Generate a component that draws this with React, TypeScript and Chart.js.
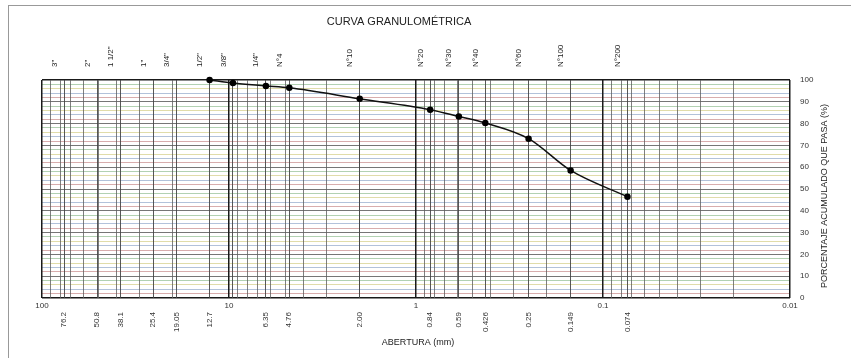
import React, { useEffect, useRef } from 'react';
import { Chart, registerables } from 'chart.js';

Chart.register(...registerables);

const chartTitle = 'CURVA GRANULOMÉTRICA';
const xAxisTitle = 'ABERTURA (mm)';
const yAxisTitle = 'PORCENTAJE ACUMULADO QUE PASA (%)';

// Sieve names (top axis) and their openings in mm
const sieveNames = ['3"', '2"', '1 1/2"', '1"', '3/4"', '1/2"', '3/8"', '1/4"', 'N°4', 'N°10', 'N°20', 'N°30', 'N°40', 'N°60', 'N°100', 'N°200'];
const sieveSizes = [76.2, 50.8, 38.1, 25.4, 19.05, 12.7, 9.525, 6.35, 4.76, 2.0, 0.84, 0.59, 0.426, 0.25, 0.149, 0.074];

// Bottom axis opening labels
const openingTicks = [76.2, 50.8, 38.1, 25.4, 19.05, 12.7, 6.35, 4.76, 2.0, 0.84, 0.59, 0.426, 0.25, 0.149, 0.074];
const openingLabels = ['76.2', '50.8', '38.1', '25.4', '19.05', '12.7', '6.35', '4.76', '2.00', '0.84', '0.59', '0.426', '0.25', '0.149', '0.074'];

// Decade ticks
const decadeTicks = [100, 10, 1, 0.1, 0.01];
const decadeLabels = ['100', '10', '1', '0.1', '0.01'];

// Grain size curve
const curveSizes = [12.7, 9.525, 6.35, 4.76, 2.0, 0.84, 0.59, 0.426, 0.25, 0.149, 0.074];
const curvePassing = [100, 98.6, 97.3, 96.4, 91.4, 86.4, 83.3, 80.3, 73.1, 58.5, 46.4];

// Percent axis
const percentLabels = [0, 10, 20, 30, 40, 50, 60, 70, 80, 90, 100];
const percentGridStep = 2;

const logMultipliers = [1, 2, 3, 4, 5, 6, 7, 8, 9];
const decadeBases = [0.01, 0.1, 1, 10];

const xGridValues: number[] = [];
decadeBases.forEach((b) => logMultipliers.forEach((m) => xGridValues.push(+(b * m).toPrecision(6))));
xGridValues.push(100);

const yGridValues: number[] = [];
for (let v = 0; v <= 100; v += percentGridStep) yGridValues.push(v);

const hPalette = ['#9a9cb4', '#d4a4a4', '#a9bbd6', '#dcd8a0', '#a9cca9'];

const isDecade = (v: number) => decadeTicks.some((d) => Math.abs(d - v) < 1e-9);

const textPlugin = {
  id: 'freeTexts',
  afterDraw(chart: any) {
    const { ctx, chartArea } = chart;
    ctx.save();
    ctx.fillStyle = '#222';
    ctx.textAlign = 'center';
    ctx.textBaseline = 'middle';
    ctx.font = '11px "Liberation Sans"';
    ctx.fillText(chartTitle, chartArea.left + 357, 22);
    ctx.font = '9px "Liberation Sans"';
    ctx.fillText(xAxisTitle, chartArea.left + 376, chartArea.bottom + 45);
    ctx.translate(chartArea.right + 35, (chartArea.top + chartArea.bottom) / 2 + 7);
    ctx.rotate(-Math.PI / 2);
    ctx.fillText(yAxisTitle, 0, 0);
    ctx.restore();
  },
};

const tickFont = { family: '"Liberation Sans"', size: 8 };

export default function App() {
  const ref = useRef<HTMLCanvasElement | null>(null);

  useEffect(() => {
    if (!ref.current) return;
    const chart = new Chart(ref.current, {
      type: 'line',
      data: {
        datasets: [
          {
            data: curveSizes.map((x, i) => ({ x, y: curvePassing[i] })),
            borderColor: '#111',
            borderWidth: 1.5,
            pointRadius: 2.5,
            pointBackgroundColor: '#000',
            pointBorderColor: '#000',
            cubicInterpolationMode: 'monotone',
            clip: false,
            xAxisID: 'x',
            yAxisID: 'y',
          } as any,
        ],
      },
      options: {
        responsive: false,
        animation: false,
        devicePixelRatio: 1,
        layout: { padding: { left: 42, right: 0, top: 0, bottom: 0 } },
        plugins: { legend: { display: false }, tooltip: { enabled: false }, title: { display: false } },
        scales: {
          y: {
            type: 'linear',
            position: 'right',
            min: 0,
            max: 100,
            afterFit: (s: any) => { s.width = 61; },
            afterBuildTicks: (s: any) => { s.ticks = yGridValues.map((value) => ({ value })); },
            ticks: {
              autoSkip: false,
              padding: 10,
              font: tickFont,
              color: '#333',
              callback: (v: any) => (percentLabels.includes(v) ? String(v) : ''),
            },
            grid: {
              drawTicks: false,
              color: (c: any) => {
                const v = c.tick.value;
                if (v === 0 || v === 100) return '#1a1a1a';
                if (v % 10 === 0) return '#666';
                return hPalette[(v / 2) % hPalette.length];
              },
              lineWidth: (c: any) => (c.tick.value === 0 || c.tick.value === 100 ? 1.5 : 0.9),
            },
            border: { display: false },
          },
          x: {
            type: 'logarithmic',
            position: 'bottom',
            weight: 0,
            min: 0.01,
            max: 100,
            reverse: true,
            afterFit: (s: any) => { s.height = 0; },
            afterBuildTicks: (s: any) => { s.ticks = xGridValues.map((value) => ({ value })); },
            ticks: { display: false, autoSkip: false },
            grid: {
              drawTicks: false,
              color: (c: any) => (isDecade(c.tick.value) ? '#1a1a1a' : '#5e5e5e'),
              lineWidth: (c: any) => (isDecade(c.tick.value) ? 1.5 : 0.8),
            },
            border: { display: false },
          },
          xDec: {
            type: 'logarithmic',
            position: 'bottom',
            weight: 1,
            min: 0.01,
            max: 100,
            reverse: true,
            afterFit: (s: any) => { s.height = 14; },
            afterBuildTicks: (s: any) => { s.ticks = decadeTicks.map((value) => ({ value })); },
            ticks: {
              autoSkip: false,
              minRotation: 0,
              maxRotation: 0,
              padding: 3,
              font: tickFont,
              color: '#333',
              callback: (_v: any, i: number) => decadeLabels[i],
            },
            grid: { display: false, drawTicks: false },
            border: { display: false },
          },
          xOpen: {
            type: 'logarithmic',
            position: 'bottom',
            weight: 2,
            min: 0.01,
            max: 100,
            reverse: true,
            afterFit: (s: any) => { s.height = 46; },
            afterBuildTicks: (s: any) => { s.ticks = openingTicks.map((value) => ({ value })); },
            ticks: {
              autoSkip: false,
              minRotation: 90,
              maxRotation: 90,
              padding: 0,
              font: tickFont,
              color: '#333',
              callback: (_v: any, i: number) => openingLabels[i],
            },
            grid: { display: false, drawTicks: false },
            border: { display: false },
          },
          xTop: {
            type: 'logarithmic',
            position: 'top',
            min: 0.01,
            max: 100,
            reverse: true,
            afterFit: (s: any) => { s.height = 80; },
            afterBuildTicks: (s: any) => { s.ticks = sieveSizes.map((value) => ({ value })); },
            ticks: {
              autoSkip: false,
              minRotation: 90,
              maxRotation: 90,
              padding: 13,
              font: tickFont,
              color: '#222',
              callback: (_v: any, i: number) => sieveNames[i],
            },
            grid: { drawTicks: false, color: '#444', lineWidth: 0.9 },
            border: { display: false },
          },
        },
      } as any,
      plugins: [textPlugin],
    });
    return () => chart.destroy();
  }, []);

  return (
    <div style={{ position: 'fixed', left: 0, top: 0, width: 851, height: 358, background: '#fff' }}>
      <div
        style={{
          position: 'absolute',
          left: 8,
          top: 5,
          width: 860,
          height: 370,
          borderLeft: '1px solid #999',
          borderTop: '1px solid #999',
        }}
      />
      <canvas ref={ref} width={851} height={358} style={{ position: 'absolute', left: 0, top: 0 }} />
    </div>
  );
}
